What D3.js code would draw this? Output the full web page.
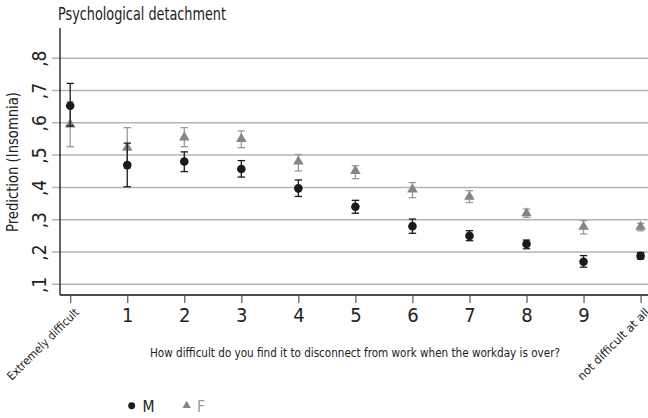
<!DOCTYPE html>
<html>
<head>
<meta charset="utf-8">
<script src="https://cdnjs.cloudflare.com/ajax/libs/d3/7.8.5/d3.min.js"></script>
<style>
  body { margin: 0; background: #fff; }
  text { font-family: "Liberation Sans Narrow", "DejaVu Sans Condensed", "Open Sans", sans-serif; }
</style>
</head>
<body>
<div id="chart"></div>
<script>
// answer levels on the x axis
var levels = [0, 1, 2, 3, 4, 5, 6, 7, 8, 9, 10];
var levelLabels = ["Extremely difficult", "1", "2", "3", "4", "5", "6", "7", "8", "9", "not difficult at all"];

// predicted insomnia, men
var mEst = [0.653, 0.469, 0.480, 0.457, 0.397, 0.340, 0.280, 0.250, 0.225, 0.170, 0.188];
var mLo  = [0.590, 0.402, 0.449, 0.432, 0.372, 0.320, 0.258, 0.235, 0.210, 0.153, 0.178];
var mHi  = [0.722, 0.537, 0.510, 0.483, 0.423, 0.360, 0.302, 0.266, 0.237, 0.189, 0.198];

// predicted insomnia, women
var fEst = [0.595, 0.523, 0.555, 0.550, 0.480, 0.451, 0.394, 0.371, 0.320, 0.278, 0.278];
var fLo  = [0.526, 0.460, 0.526, 0.523, 0.451, 0.427, 0.368, 0.353, 0.307, 0.256, 0.266];
var fHi  = [0.665, 0.585, 0.585, 0.575, 0.502, 0.467, 0.415, 0.390, 0.333, 0.297, 0.289];

var yTicks = [0.1, 0.2, 0.3, 0.4, 0.5, 0.6, 0.7, 0.8];
var yTickLabels = [",1", ",2", ",3", ",4", ",5", ",6", ",7", ",8"];

var width = 648;
var height = 418;
// note: "top" is taken by window.top, so prefix these
var plotLeft = 60, plotRight = 648, plotTop = 28, plotBottom = 295;

var svg = d3.select("#chart")
  .append("svg")
    .attr("width", width)
    .attr("height", height);

var x = d3.scaleLinear()
  .domain([-0.179, 10.13])
  .range([plotLeft, plotRight]);

var y = d3.scaleLinear()
  .domain([0.0669, 0.8935])
  .range([plotBottom, plotTop]);

// gridlines (with the small tick stub left of the axis)
svg.append("g")
  .selectAll("line")
  .data(yTicks)
  .enter()
    .append("line")
    .attr("x1", plotLeft - 8)
    .attr("x2", plotRight)
    .attr("y1", function(d) { return y(d); })
    .attr("y2", function(d) { return y(d); })
    .attr("stroke", "#b4b4b4")
    .attr("stroke-width", 1.5);

// y axis
var yAxis = d3.axisLeft(y)
  .tickValues(yTicks)
  .tickSize(0)
  .tickFormat(function(d, i) { return yTickLabels[i]; });

var gy = svg.append("g")
  .attr("transform", "translate(" + plotLeft + ",0)")
  .call(yAxis);
gy.select(".domain").remove();
gy.selectAll(".tick text")
  .attr("x", null).attr("dy", null)
  .attr("text-anchor", "middle")
  .attr("transform", "translate(-14,0) rotate(-90)")
  .attr("font-size", "19px")
  .attr("fill", "#222");

svg.append("line")
  .attr("x1", plotLeft).attr("x2", plotLeft)
  .attr("y1", plotTop).attr("y2", plotBottom)
  .attr("stroke", "#111")
  .attr("stroke-width", 1.3);

// x axis
var xAxis = d3.axisBottom(x)
  .tickValues(levels)
  .tickSize(8)
  .tickFormat(function(d, i) { return levelLabels[i]; });

var gx = svg.append("g")
  .attr("transform", "translate(0," + plotBottom + ")")
  .call(xAxis);
gx.select(".domain")
  .attr("d", "M" + plotLeft + ",0H" + plotRight)
  .attr("stroke", "#111")
  .attr("stroke-width", 1.3);
gx.selectAll(".tick line")
  .attr("stroke", "#555")
  .attr("stroke-width", 1.2);
gx.selectAll(".tick text")
  .attr("y", 27).attr("dy", null)
  .attr("font-size", "20px")
  .attr("fill", "#222");

// the two end labels are rotated
gx.selectAll(".tick text")
  .filter(function(d) { return d === 0 || d === 10; })
  .attr("y", null)
  .attr("font-size", "11.5px")
  .attr("text-anchor", "end")
  .attr("textLength", 96)
  .attr("lengthAdjust", "spacingAndGlyphs")
  .attr("transform", "translate(9,18) rotate(-45)");

// error bars + markers
function drawSeries(est, lo, hi, barColor, markColor, shape) {
  var g = svg.append("g");
  var pts = levels.map(function(l, i) { return { x: l, e: est[i], lo: lo[i], hi: hi[i] }; });
  var cap = 3.7;

  g.selectAll(".bar").data(pts).enter().append("line")
    .attr("x1", function(d) { return x(d.x); })
    .attr("x2", function(d) { return x(d.x); })
    .attr("y1", function(d) { return y(d.lo); })
    .attr("y2", function(d) { return y(d.hi); })
    .attr("stroke", barColor).attr("stroke-width", 1.3);

  ["lo", "hi"].forEach(function(k) {
    g.selectAll(".cap-" + k).data(pts).enter().append("line")
      .attr("x1", function(d) { return x(d.x) - cap; })
      .attr("x2", function(d) { return x(d.x) + cap; })
      .attr("y1", function(d) { return y(d[k]); })
      .attr("y2", function(d) { return y(d[k]); })
      .attr("stroke", barColor).attr("stroke-width", 1.3);
  });

  g.selectAll(".mark").data(pts).enter().append("path")
    .attr("transform", function(d) { return "translate(" + x(d.x) + "," + y(d.e) + ")"; })
    .attr("d", shape)
    .attr("fill", markColor);
}

var triangle = d3.symbol().type(d3.symbolTriangle).size(48)();
var circle = d3.symbol().type(d3.symbolCircle).size(58)();

drawSeries(fEst, fLo, fHi, "#9a9a9a", "#858585", triangle);
drawSeries(mEst, mLo, mHi, "#1a1a1a", "#1a1a1a", circle);

// title and axis titles
svg.append("text")
  .attr("x", 58).attr("y", 20)
  .attr("font-size", "17px")
  .attr("textLength", 168)
  .attr("lengthAdjust", "spacingAndGlyphs")
  .attr("fill", "#222")
  .text("Psychological detachment");

svg.append("text")
  .attr("transform", "translate(18,162) rotate(-90)")
  .attr("text-anchor", "middle")
  .attr("font-size", "16px")
  .attr("textLength", 140)
  .attr("lengthAdjust", "spacingAndGlyphs")
  .attr("fill", "#222")
  .text("Prediction (Insomnia)");

svg.append("text")
  .attr("x", 150).attr("y", 357)
  .attr("font-size", "12px")
  .attr("textLength", 410)
  .attr("lengthAdjust", "spacingAndGlyphs")
  .attr("fill", "#222")
  .text("How difficult do you find it to disconnect from work when the workday is over?");

// legend
var legend = svg.append("g");
legend.append("path")
  .attr("transform", "translate(131.7,405.7)")
  .attr("d", d3.symbol().type(d3.symbolCircle).size(38)())
  .attr("fill", "#1a1a1a");
legend.append("text")
  .attr("x", 142.5).attr("y", 412)
  .attr("font-size", "15.5px")
  .attr("fill", "#222")
  .text("M");
legend.append("path")
  .attr("transform", "translate(186.7,405.5)")
  .attr("d", d3.symbol().type(d3.symbolTriangle).size(30)())
  .attr("fill", "#858585");
legend.append("text")
  .attr("x", 197).attr("y", 412)
  .attr("font-size", "15.5px")
  .attr("fill", "#9a9a9a")
  .text("F");
</script>
</body>
</html>
